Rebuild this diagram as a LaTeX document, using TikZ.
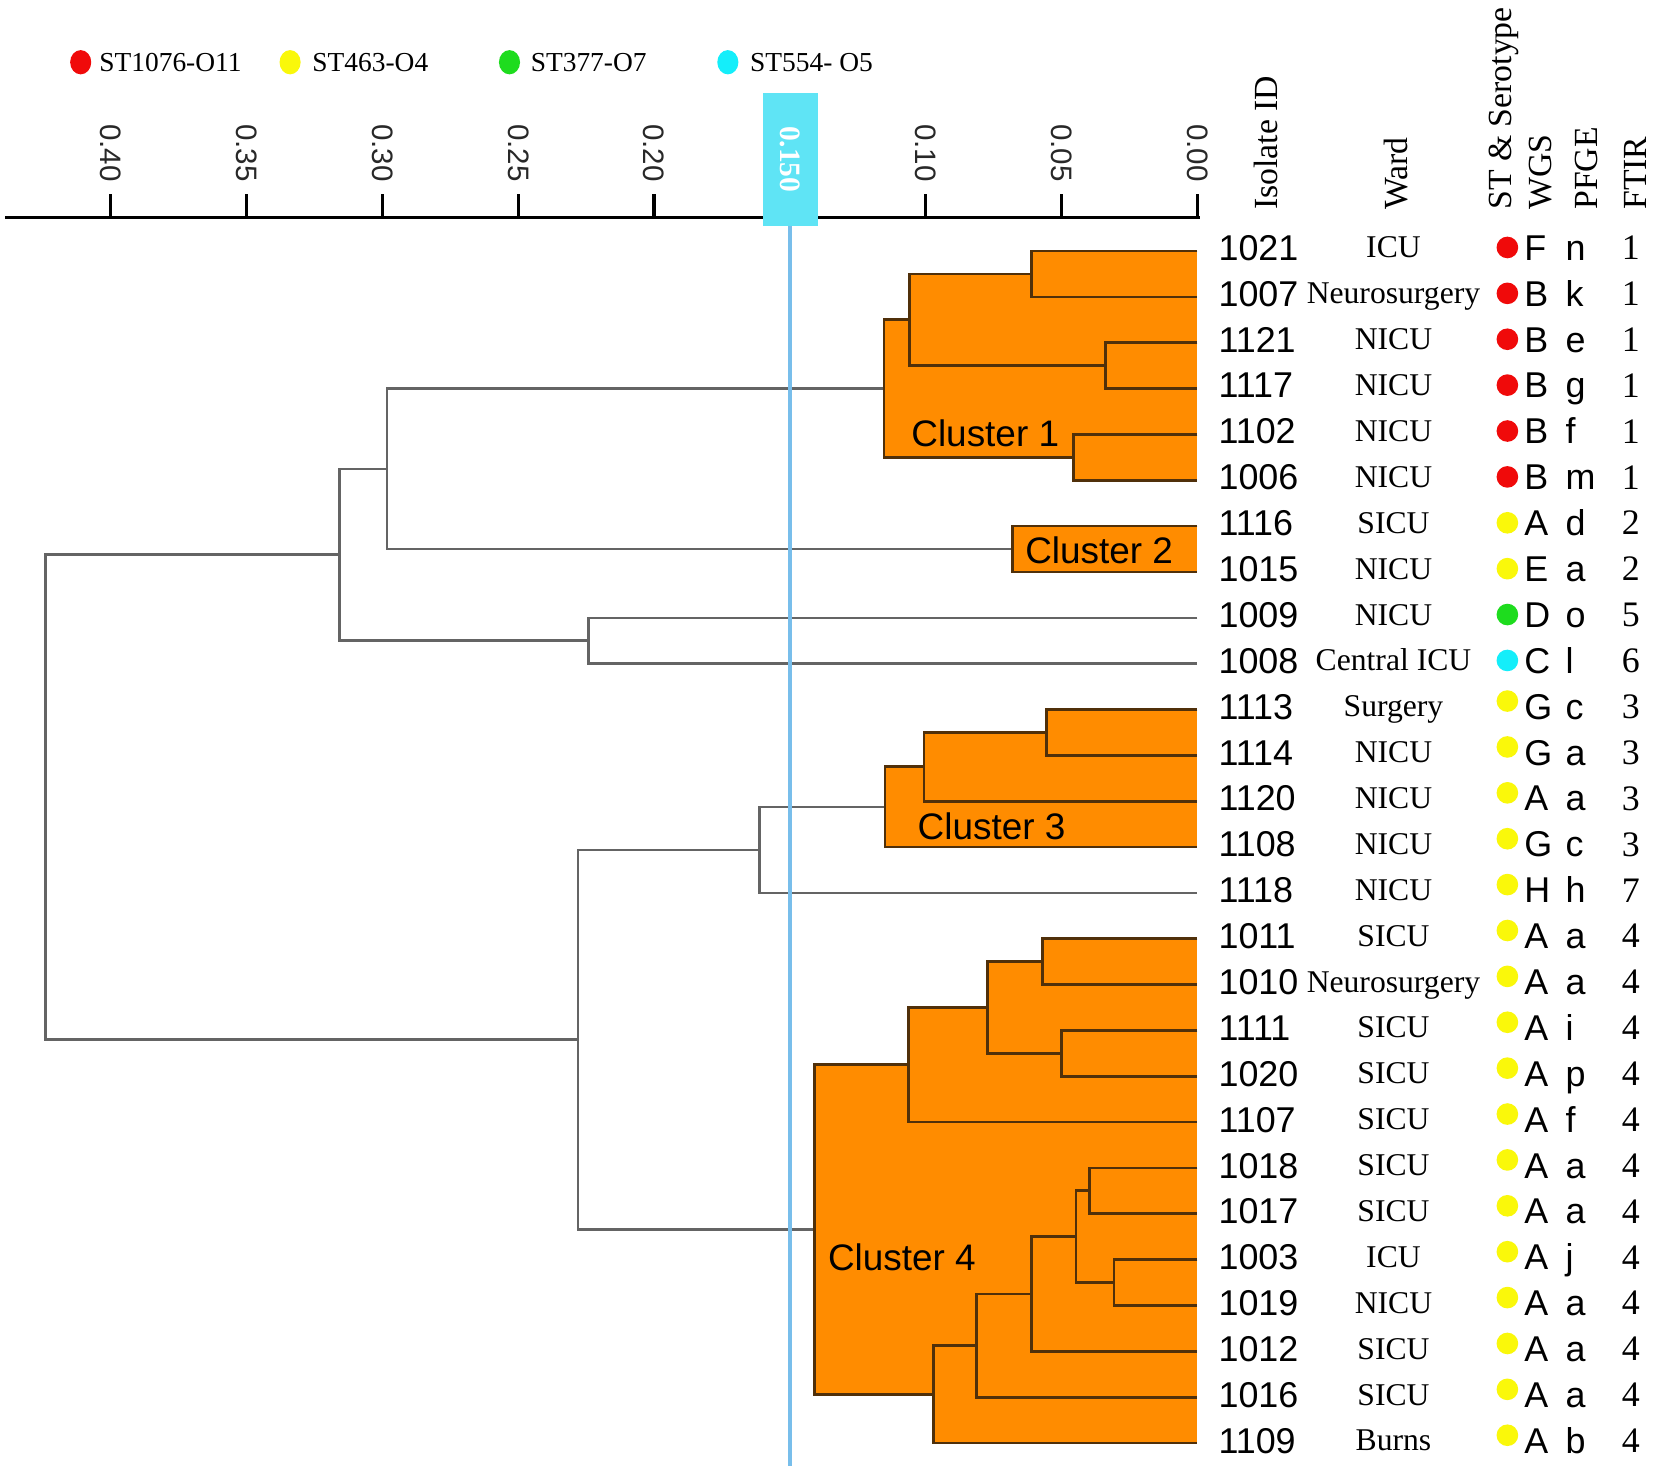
\documentclass[tikz,border=0pt]{standalone}
\usepackage{fontspec}
\setmainfont{Liberation Serif}
\newfontfamily\arialf{Liberation Sans}
\usetikzlibrary{shapes.geometric}
\definecolor{org}{RGB}{255,140,0}
\definecolor{brn}{RGB}{80,48,10}
\definecolor{gln}{RGB}{100,100,100}
\definecolor{cred}{RGB}{240,10,10}
\definecolor{cyel}{RGB}{250,248,10}
\definecolor{cgrn}{RGB}{30,220,30}
\definecolor{ccyn}{RGB}{20,238,250}
\definecolor{bline}{RGB}{120,190,235}
\definecolor{bbox}{RGB}{95,228,245}
\definecolor{tickc}{RGB}{40,40,40}
\newcommand\dendelbow[4]{\draw[#1] (#3) -| (#2) |- (#4);}
\newcommand\clfill[3]{\fill[org] (#1 |- #2) rectangle (L1 |- #3);}
\begin{document}
\begin{tikzpicture}[x=1pt,y=-1pt,
  cl/.style={draw=brn,line width=2.6},
  gl/.style={draw=gln,line width=2.4},
  idf/.style={font=\arialf\fontsize{34}{40}\selectfont,inner sep=0},
  wardf/.style={font=\fontsize{30}{36}\selectfont,inner sep=0,anchor=base},
  ftf/.style={font=\fontsize{34}{40}\selectfont,inner sep=0,anchor=base},
  hdr/.style={font=\fontsize{32}{38}\selectfont,rotate=90,anchor=base west,inner sep=0},
  tkl/.style={font=\arialf\fontsize{28}{32}\selectfont,text=tickc,rotate=-90,inner sep=0},
  legt/.style={font=\fontsize{26}{30}\selectfont,anchor=base west,inner sep=0},
  ldot/.style={ellipse,minimum width=20,minimum height=23,inner sep=0},
  rdot/.style={circle,minimum size=20.5,inner sep=0},
  clab/.style={font=\arialf\fontsize{35}{40}\selectfont,inner sep=0},
  axisl/.style={draw=black,line width=3}]
\fill[white] (0,0) rectangle (1568,1402);
\useasboundingbox (0,0) rectangle (1568,1402);

% leaves
\foreach \i in {1,...,27} \coordinate (L\i) at (1135,{238+(\i-1)*43.46});
% internal nodes
\coordinate (a1) at (978,259.73);
\coordinate (a2) at (1048,346.65);
\coordinate (a3) at (862,303.19);
\coordinate (a4) at (1018,433.57);
\coordinate (c1) at (838,368.38);
\coordinate (c2) at (960,520.49);
\coordinate (b1) at (367,444.4);
\coordinate (b2) at (558,607.41);
\coordinate (b3) at (322,525.9);
\coordinate (d1) at (992,694.33);
\coordinate (d2) at (876,726.9);
\coordinate (c3) at (839,764.9);
\coordinate (b4) at (720,805.7);
\coordinate (e1) at (988,911.63);
\coordinate (e2) at (1006,998.55);
\coordinate (e3) at (936,955.09);
\coordinate (e4) at (861,1009.4);
\coordinate (f1) at (1033,1128.93);
\coordinate (f2) at (1056,1215.85);
\coordinate (f3) at (1020,1172.39);
\coordinate (f4) at (978,1226.7);
\coordinate (f5) at (926,1275.6);
\coordinate (f6) at (885,1321.8);
\coordinate (c4) at (772,1165.6);
\coordinate (b5) at (548,985.6);
\coordinate (rt) at (43,755.8);

% cluster fills
\clfill{a1}{L1}{L2}
\clfill{a2}{L3}{L4}
\clfill{a3}{a1}{a2}
\clfill{a4}{L5}{L6}
\clfill{c1}{a3}{a4}
\clfill{c2}{L7}{L8}
\clfill{d1}{L11}{L12}
\clfill{d2}{d1}{L13}
\clfill{c3}{d2}{L14}
\clfill{e1}{L16}{L17}
\clfill{e2}{L18}{L19}
\clfill{e3}{e1}{e2}
\clfill{e4}{e3}{L20}
\clfill{f1}{L21}{L22}
\clfill{f2}{L23}{L24}
\clfill{f3}{f1}{f2}
\clfill{f4}{f3}{L25}
\clfill{f5}{f4}{L26}
\clfill{f6}{f5}{L27}
\clfill{c4}{e4}{f6}

% dendrogram lines
\dendelbow{gl}{rt}{b3}{b5}
\dendelbow{gl}{b3}{b1}{b2}
\dendelbow{gl}{b1}{c1}{c2}
\dendelbow{gl}{b2}{L9}{L10}
\dendelbow{gl}{b5}{b4}{c4}
\dendelbow{gl}{b4}{c3}{L15}
\dendelbow{cl}{a1}{L1}{L2}
\dendelbow{cl}{a2}{L3}{L4}
\dendelbow{cl}{a3}{a1}{a2}
\dendelbow{cl}{a4}{L5}{L6}
\dendelbow{cl}{c1}{a3}{a4}
\dendelbow{cl}{c2}{L7}{L8}
\dendelbow{cl}{d1}{L11}{L12}
\dendelbow{cl}{d2}{d1}{L13}
\dendelbow{cl}{c3}{d2}{L14}
\dendelbow{cl}{e1}{L16}{L17}
\dendelbow{cl}{e2}{L18}{L19}
\dendelbow{cl}{e3}{e1}{e2}
\dendelbow{cl}{e4}{e3}{L20}
\dendelbow{cl}{f1}{L21}{L22}
\dendelbow{cl}{f2}{L23}{L24}
\dendelbow{cl}{f3}{f1}{f2}
\dendelbow{cl}{f4}{f3}{L25}
\dendelbow{cl}{f5}{f4}{L26}
\dendelbow{cl}{f6}{f5}{L27}
\dendelbow{cl}{c4}{e4}{f6}

% cluster labels
\node[clab] (cla) at (934,411) {Cluster 1};
\node[clab] (clb) at (1042,522) {Cluster 2};
\node[clab] (clc) at (940,783) {Cluster 3};
\node[clab] (cld) at (855,1192) {Cluster 4};

% axis
\draw[axisl] (5,206) -- (1138,206);
\foreach \v [count=\k] in {0.40,0.35,0.30,0.25,0.20,0.10,0.05,0.00}{
  \draw[axisl] ({1135-\v*2575},184) -- ({1135-\v*2575},206);
  \node[tkl] (tk\k) at ({1135-\v*2575},145) {\v};
}

% threshold
\node[fill=bbox,minimum width=126,minimum height=52,inner sep=0,rotate=-90,
      font=\bfseries\fontsize{28}{32}\selectfont,text=white] (thr) at (749,151) {0.150};
\coordinate (thrend) at (749,1390);
\draw[draw=bline,line width=3.5] (thr) -- (thrend);

% legend
\node[ldot,fill=cred] (lg1) at (76.5,59) {};
\node[legt] (lt1) at (94,67.6) {ST1076-O11};
\node[ldot,fill=cyel] (lg2) at (275,59) {};
\node[legt] (lt2) at (296,67.6) {ST463-O4};
\node[ldot,fill=cgrn] (lg3) at (483,59) {};
\node[legt] (lt3) at (503,67.6) {ST377-O7};
\node[ldot,fill=ccyn] (lg4) at (690,59) {};
\node[legt] (lt4) at (711,67.6) {ST554- O5};

% headers
\node[hdr] (hIso) at (1211,199) {Isolate ID};
\node[hdr] (hWard) at (1334,199) {Ward};
\node[hdr] (hST) at (1433,199) {ST \& Serotype};
\node[hdr] (hWGS) at (1471,199) {WGS};
\node[hdr] (hPF) at (1514,199) {PFGE};
\node[hdr] (hFT) at (1561,199) {FTIR};

% table rows
\foreach \id/\ward/\col/\wg/\pf/\ft [count=\i] in {
1021/ICU/cred/F/n/1,
1007/Neurosurgery/cred/B/k/1,
1121/NICU/cred/B/e/1,
1117/NICU/cred/B/g/1,
1102/NICU/cred/B/f/1,
1006/NICU/cred/B/m/1,
1116/SICU/cyel/A/d/2,
1015/NICU/cyel/E/a/2,
1009/NICU/cgrn/D/o/5,
1008/Central ICU/ccyn/C/l/6,
1113/Surgery/cyel/G/c/3,
1114/NICU/cyel/G/a/3,
1120/NICU/cyel/A/a/3,
1108/NICU/cyel/G/c/3,
1118/NICU/cyel/H/h/7,
1011/SICU/cyel/A/a/4,
1010/Neurosurgery/cyel/A/a/4,
1111/SICU/cyel/A/i/4,
1020/SICU/cyel/A/p/4,
1107/SICU/cyel/A/f/4,
1018/SICU/cyel/A/a/4,
1017/SICU/cyel/A/a/4,
1003/ICU/cyel/A/j/4,
1019/NICU/cyel/A/a/4,
1012/SICU/cyel/A/a/4,
1016/SICU/cyel/A/a/4,
1109/Burns/cyel/A/b/4}{
  \pgfmathsetmacro\yc{234.6+(\i-1)*43.5}
  \pgfmathsetmacro\yd{\yc-(\i>10)*5}
  \node[idf,anchor=base west] (id\i) at (1155,\yc+12.2) {\id};
  \node[wardf] (wd\i) at (1321,\yc+9.9) {\ward};
  \node[rdot,fill=\col] (dt\i) at (1429,\yd) {};
  \node[idf,anchor=base west] (wg\i) at (1445,\yc+12.2) {\wg};
  \node[idf,anchor=base west] (pf\i) at (1484,\yc+12.2) {\pf};
  \node[ftf] (ft\i) at (1546,\yc+11.5) {\ft};
}
\end{tikzpicture}
\end{document}
